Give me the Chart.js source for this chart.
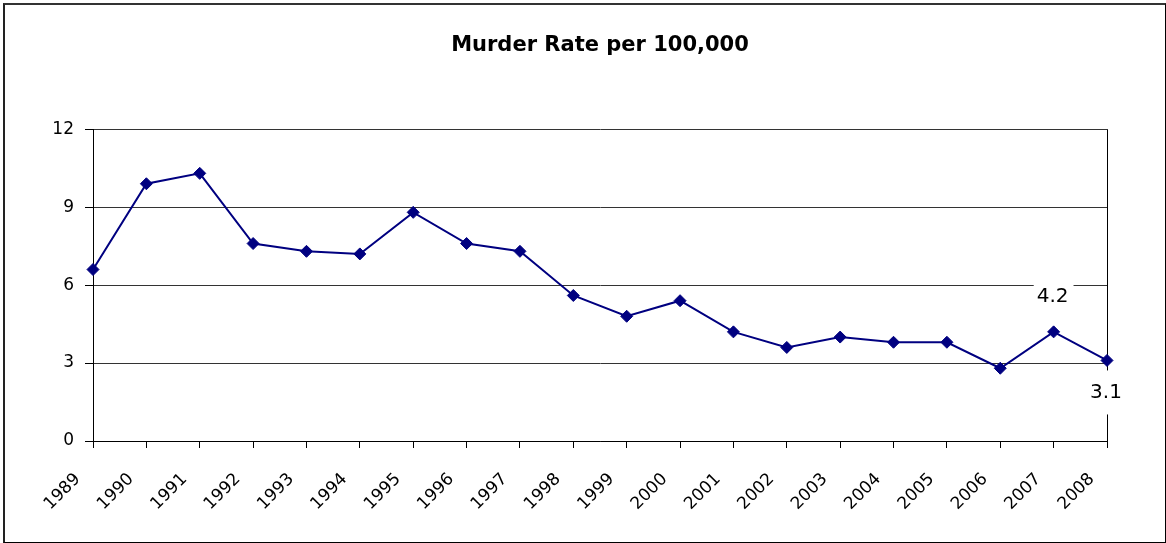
<!DOCTYPE html>
<html>
<head>
<meta charset="utf-8">
<script src="https://cdn.jsdelivr.net/npm/chart.js@4.4.0/dist/chart.umd.min.js"></script>
<style>
  html, body { margin: 0; padding: 0; background: #fff; }
  #wrap { position: relative; width: 1166px; height: 543px; }
  #frame {
    position: absolute; left: 3px; top: 3px; right: 0; bottom: 0;
    border-top: 2px solid #333; border-left: 2px solid #222;
    border-right: 1px solid #000; border-bottom: 1px solid #000;
    pointer-events: none;
  }
  canvas { display: block; }
</style>
</head>
<body>
<div id="wrap">
  <canvas id="chart" width="1166" height="543"></canvas>
  <div id="frame"></div>
</div>
<script>
// data
const years = ['1989', '1990', '1991', '1992', '1993', '1994', '1995', '1996', '1997', '1998',
               '1999', '2000', '2001', '2002', '2003', '2004', '2005', '2006', '2007', '2008'];
const murderRate = [6.6, 9.9, 10.3, 7.6, 7.3, 7.2, 8.8, 7.6, 7.3, 5.6,
                    4.8, 5.4, 4.2, 3.6, 4.0, 3.8, 3.8, 2.8, 4.2, 3.1];
const yTicks = [0, 3, 6, 9, 12];
// only the last two points carry a value label
const labelled = [18, 19];

const FONT = 'DejaVu Sans';

// value labels with a white box, like the Excel ones
const valueLabels = {
  id: 'valueLabels',
  afterDatasetsDraw(chart) {
    const ctx = chart.ctx;
    const meta = chart.getDatasetMeta(0);
    ctx.save();
    ctx.font = '20px "' + FONT + '"';
    ctx.textAlign = 'center';
    ctx.textBaseline = 'middle';
    labelled.forEach((idx, k) => {
      const pt = meta.data[idx];
      const txt = murderRate[idx].toFixed(1);
      const w = ctx.measureText(txt).width + 8;
      const cy = k === 0 ? pt.y - 35 : pt.y + 32;
      ctx.fillStyle = '#fff';
      ctx.fillRect(pt.x - w / 2, cy - 22, w, 44);
      ctx.fillStyle = '#000';
      ctx.fillText(txt, pt.x - 1, cy);
    });
    ctx.restore();
  }
};

new Chart(document.getElementById('chart'), {
  type: 'line',
  data: {
    labels: years,
    datasets: [{
      label: 'Murder Rate',
      data: murderRate,
      borderColor: '#000080',
      backgroundColor: '#000080',
      borderWidth: 2,
      pointStyle: 'rectRot',
      pointRadius: 6,
      pointBorderWidth: 1,
      tension: 0
    }]
  },
  options: {
    responsive: false,
    animation: false,
    layout: { padding: { left: 0, right: 59, top: 0, bottom: 0 } },
    plugins: {
      legend: { display: false },
      tooltip: { enabled: false },
      title: {
        display: true,
        text: 'Murder Rate per 100,000',
        color: '#000',
        fullSize: false,
        font: { family: FONT, size: 21, weight: 'bold', lineHeight: 1.2 },
        padding: { top: 33, bottom: 71 }
      }
    },
    scales: {
      x: {
        offset: false,
        grid: {
          offset: false,
          drawOnChartArea: true,
          color: c => c.index === years.length - 1 ? '#000' : 'rgba(0,0,0,0)',
          tickColor: '#000',
          tickLength: 7
        },
        border: { display: true, color: '#000', width: 1 },
        ticks: {
          color: '#000',
          font: { family: FONT, size: 17 },
          autoSkip: false,
          minRotation: 45,
          maxRotation: 45,
          padding: 6,
          // trailing gap so the rotated year sits a bit away from its tick
          callback: (v, i) => years[i] + '    '
        },
        afterFit(scale) { scale.height = 102; }
      },
      y: {
        min: 0,
        max: 12,
        afterBuildTicks(scale) { scale.ticks = yTicks.map(v => ({ value: v })); },
        grid: { color: '#333', tickColor: '#000', tickLength: 8, lineWidth: 1 },
        border: { display: true, color: '#000', width: 1 },
        ticks: {
          color: '#000',
          font: { family: FONT, size: 17 },
          padding: 11
        },
        afterFit(scale) { scale.width = 93; }
      }
    }
  },
  plugins: [valueLabels]
});
</script>
</body>
</html>
